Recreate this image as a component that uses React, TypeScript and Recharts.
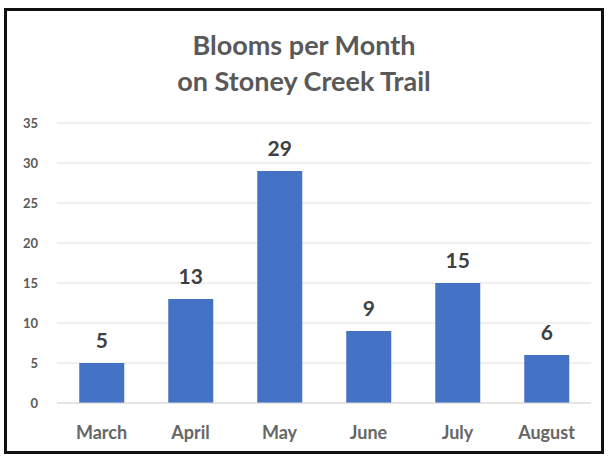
import { BarChart, Bar, XAxis, YAxis, CartesianGrid, LabelList } from "recharts"

const months = ["March", "April", "May", "June", "July", "August"]
const blooms = [5, 13, 29, 9, 15, 6]
const yTicks = [0, 5, 10, 15, 20, 25, 30, 35]

const data = months.map((month, i) => ({ month, blooms: blooms[i] }))

const font = "Lato, 'Open Sans', sans-serif"

export default function App() {
  return (
    <div style={{ position: "absolute", left: 0, top: 0, width: 608, height: 456, background: "#fff", fontFamily: font }}>
      <div
        style={{
          position: "absolute",
          left: 4,
          top: 8,
          width: 600,
          height: 446,
          border: "3px solid #111",
          boxSizing: "border-box",
        }}
      />
      <div
        style={{
          position: "absolute",
          left: 0,
          width: 608,
          top: 27,
          textAlign: "center",
          color: "#595959",
          fontWeight: 700,
          fontSize: 27,
          lineHeight: "36px",
        }}
      >
        Blooms per Month
        <br />
        on Stoney Creek Trail
      </div>
      <BarChart
        width={608}
        height={456}
        data={data}
        margin={{ top: 123, right: 17, bottom: 0, left: 0 }}
        barCategoryGap="25%"
      >
        <CartesianGrid vertical={false} stroke="#e0e0e0" />
        <XAxis
          dataKey="month"
          height={53}
          tickLine={false}
          axisLine={{ stroke: "#d9d9d9" }}
          tickSize={0}
          tickMargin={23}
          tick={{ fill: "#666666", fontSize: 18, fontWeight: 700, fontFamily: font }}
        />
        <YAxis
          width={57}
          domain={[0, 35]}
          ticks={yTicks}
          tickLine={false}
          axisLine={false}
          tickSize={0}
          tickMargin={19}
          tick={{ fill: "#595959", fontSize: 13, fontWeight: 700, fontFamily: font }}
        />
        <Bar dataKey="blooms" fill="#4472C4" isAnimationActive={false}>
          <LabelList
            dataKey="blooms"
            position="top"
            offset={15}
            style={{ fill: "#404040", fontSize: 21, fontWeight: 700, fontFamily: font }}
          />
        </Bar>
      </BarChart>
    </div>
  )
}
